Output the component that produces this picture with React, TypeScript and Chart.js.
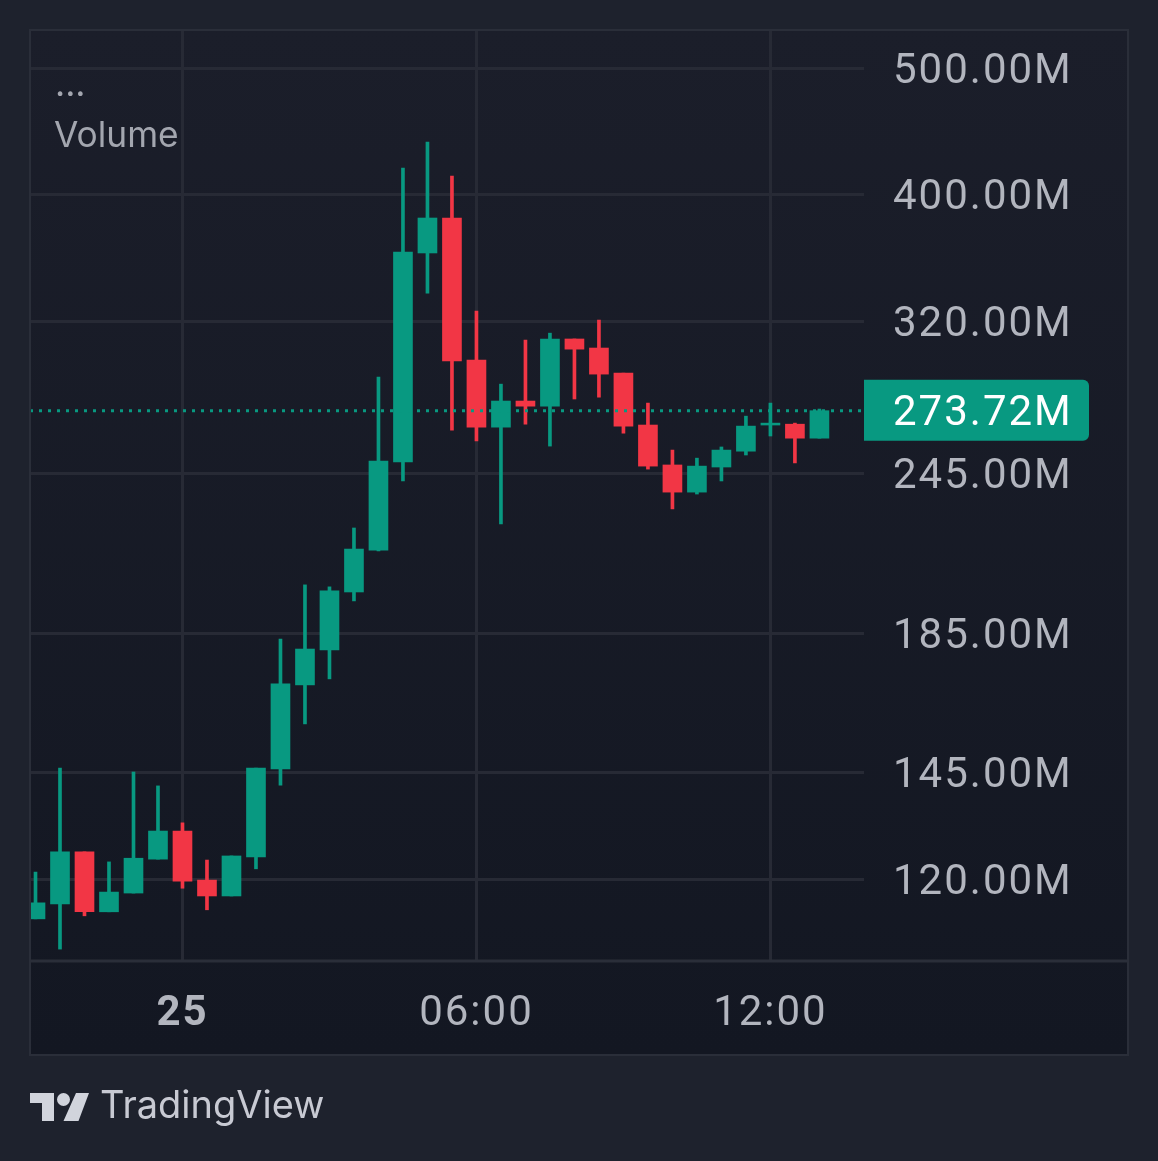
import React, { useRef, useEffect } from "react";
import { Chart, registerables } from "chart.js";

Chart.register(...registerables);

// half-hour candles, values in millions
const opens = [112.0, 115.0, 126.0, 113.4, 117.2, 124.4, 130.7, 119.9, 116.6, 124.9, 145.8, 169.0, 179.7, 199.0, 214.2, 250.1, 361.2, 384.1, 299.2, 265.9, 278.4, 275.9, 310.5, 305.6, 292.4, 266.9, 248.8, 237.2, 247.9, 254.9, 266.9, 267.3, 260.8];
const closes = [115.2, 126.0, 113.4, 117.4, 124.6, 130.7, 119.7, 116.6, 125.1, 146.0, 169.3, 180.0, 199.4, 214.6, 250.5, 361.8, 384.1, 298.7, 265.9, 278.4, 275.9, 310.5, 305.0, 291.9, 266.4, 248.3, 237.2, 248.3, 255.4, 266.4, 267.8, 260.8, 273.72];
const highs = [121.6, 146.0, 126.0, 123.8, 145.0, 141.5, 132.6, 124.2, 125.1, 146.0, 183.2, 201.5, 200.8, 222.7, 290.4, 419.4, 439.0, 413.5, 326.1, 286.8, 309.9, 313.7, 310.5, 321.0, 292.4, 277.4, 255.4, 251.8, 256.8, 271.1, 277.4, 267.8, 274.5];
const lows = [112.0, 106.2, 112.6, 113.4, 117.2, 124.4, 118.2, 113.8, 116.6, 122.3, 141.7, 157.8, 170.8, 195.9, 213.9, 241.9, 336.6, 264.5, 259.5, 224.3, 267.3, 257.2, 279.4, 280.3, 263.1, 247.0, 230.3, 236.4, 241.9, 253.2, 261.8, 249.7, 260.8];

const priceTicks = [120, 145, 185, 245, 320, 400, 500];
const timeTickIndexes = [6, 18, 30];
const timeTickLabels = ["25", "06:00", "12:00"];
const lastPrice = 273.72;

const UP = "#089981";
const DOWN = "#F23645";
const GRID = "#272A35";
const FRAME = "#2A2E39";
const TEXT = "#B2B5BE";
const FONT = "Inter, 'Noto Sans', sans-serif";
const TICK_FONT = "Roboto, Inter, sans-serif";
const TICK_SPACING = "2px";

const colors = opens.map((o, i) => (closes[i] >= o ? UP : DOWN));

const panelPlugin = {
  id: "panel",
  beforeDraw(chart: any) {
    const { ctx, width, height } = chart;
    ctx.fillStyle = "#1E222D";
    ctx.fillRect(0, 0, width, height);
    const grad = ctx.createLinearGradient(0, 30, 0, 1055);
    grad.addColorStop(0, "#1B1E2A");
    grad.addColorStop(1, "#131722");
    ctx.fillStyle = grad;
    ctx.fillRect(30, 30, 1098, 1025);
    // roboto has even digits like the original, it only needs a bit of air
    ctx.letterSpacing = TICK_SPACING;
  },
  afterDraw(chart: any) {
    const { ctx, chartArea, scales } = chart;
    ctx.save();
    // frame and the line above the time axis
    ctx.strokeStyle = FRAME;
    ctx.lineWidth = 2;
    ctx.strokeRect(30, 30, 1098, 1025);
    ctx.lineWidth = 3;
    ctx.beginPath();
    ctx.moveTo(30, chartArea.bottom);
    ctx.lineTo(1128, chartArea.bottom);
    ctx.stroke();

    // last price tag
    const y = scales.y.getPixelForValue(lastPrice);
    ctx.fillStyle = UP;
    ctx.beginPath();
    ctx.roundRect(chartArea.right, y - 31, 225, 61, [0, 6, 6, 0]);
    ctx.fill();
    ctx.fillStyle = "#FFFFFF";
    ctx.font = `42px ${TICK_FONT}`;
    ctx.textBaseline = "middle";
    ctx.textAlign = "left";
    ctx.fillText(lastPrice.toFixed(2) + "M", 893, y + 4);

    ctx.letterSpacing = "0px";
    // legend
    ctx.fillStyle = "#A3A6AF";
    ctx.font = `35.3px ${FONT}`;
    ctx.fillText("...", 55, 85);
    ctx.fillText("Volume", 54, 136);

    // logo
    ctx.fillStyle = "#D1D4DC";
    ctx.beginPath();
    ctx.moveTo(30, 1093);
    ctx.lineTo(54, 1093);
    ctx.lineTo(54, 1121);
    ctx.lineTo(42, 1121);
    ctx.lineTo(42, 1103);
    ctx.lineTo(30, 1103);
    ctx.closePath();
    ctx.moveTo(76, 1093);
    ctx.lineTo(89, 1093);
    ctx.lineTo(78.5, 1121);
    ctx.lineTo(63.5, 1121);
    ctx.closePath();
    ctx.moveTo(70, 1099.5);
    ctx.arc(63.5, 1099.5, 6.5, 0, Math.PI * 2);
    ctx.fill();
    ctx.fillStyle = "#C8CAD3";
    ctx.font = `38px ${FONT}`;
    ctx.fillText("TradingView", 100, 1107);
    ctx.restore();
  },
};

const App = () => {
  const chartRef = useRef<HTMLCanvasElement>(null);

  useEffect(() => {
    document.body.style.margin = "0";
    if (!chartRef.current) return;
    const xMin = -0.2245;
    const xMax = 33.82;

    const chart = new Chart(chartRef.current, {
      type: "bar",
      plugins: [panelPlugin],
      data: {
        datasets: [
          {
            type: "line",
            data: [
              { x: xMin, y: lastPrice },
              { x: xMax, y: lastPrice },
            ],
            borderColor: UP,
            borderWidth: 3,
            borderDash: [3, 6],
            pointRadius: 0,
            order: 0,
          },
          {
            data: opens.map((o, i) => ({ x: i, y: [o, closes[i]] })),
            backgroundColor: colors,
            barThickness: 19,
            grouped: false,
            order: 1,
          },
          {
            data: lows.map((l, i) => ({ x: i, y: [l, highs[i]] })),
            backgroundColor: colors,
            barThickness: 3,
            grouped: false,
            order: 2,
          },
        ] as any,
      },
      options: {
        responsive: false,
        animation: false,
        layout: { padding: { left: 30, right: 30, top: 30, bottom: 106 } },
        plugins: { legend: { display: false }, tooltip: { enabled: false } },
        scales: {
          x: {
            type: "linear",
            min: xMin,
            max: xMax,
            offset: false,
            afterBuildTicks: (scale: any) => {
              scale.ticks = timeTickIndexes.map((value) => ({ value }));
            },
            afterFit: (scale: any) => {
              scale.height = 94;
              scale.paddingLeft = 0;
              scale.paddingRight = 0;
            },
            grid: { color: GRID, lineWidth: 3, drawTicks: false, offset: false },
            border: { display: false },
            ticks: {
              autoSkip: false,
              maxRotation: 0,
              padding: 28,
              color: TEXT,
              font: (ctx: any) => ({
                family: TICK_FONT,
                size: 42,
                weight: ctx.index === 0 ? "bold" : "normal",
              }),
              callback: (_v: any, i: number) => timeTickLabels[i],
            },
          },
          y: {
            type: "logarithmic",
            position: "right",
            min: 104,
            max: 534.6,
            afterBuildTicks: (scale: any) => {
              scale.ticks = priceTicks.map((value) => ({ value }));
            },
            afterFit: (scale: any) => {
              scale.width = 264;
              scale.paddingTop = 0;
              scale.paddingBottom = 0;
            },
            grid: { color: GRID, lineWidth: 3, drawTicks: false },
            border: { display: false },
            ticks: {
              autoSkip: false,
              padding: 29,
              labelOffset: 4,
              color: TEXT,
              font: { family: TICK_FONT, size: 42 },
              callback: (v: any) => Number(v).toFixed(2) + "M",
            },
          },
        },
      } as any,
    });

    return () => {
      chart.destroy();
    };
  }, []);

  return <canvas ref={chartRef} width={1158} height={1161} style={{ display: "block" }} />;
};

export default App;
